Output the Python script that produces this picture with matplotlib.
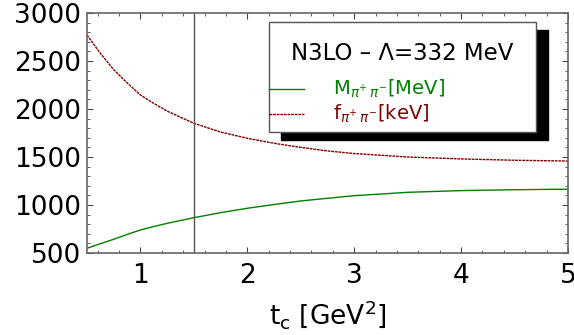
import matplotlib
matplotlib.use('Agg')
import matplotlib.pyplot as plt
from matplotlib.patches import Rectangle
from matplotlib.lines import Line2D
from matplotlib.ticker import MultipleLocator

# values
t_c = [0.5, 0.625, 0.75, 0.875, 1.0, 1.125, 1.25, 1.5, 1.75, 2.0, 2.25, 2.5, 2.75, 3.0, 3.5, 4.0, 4.5, 5.0]
mass = [549, 597, 643, 693, 740, 776, 809, 868, 920, 966, 1005, 1042, 1070, 1097, 1132, 1150, 1159, 1165]
coupling = [2771, 2580, 2410, 2272, 2146, 2058, 1978, 1851, 1760, 1695, 1643, 1600, 1563, 1536, 1500, 1480,
            1466, 1458]
t_cut = 1.5
title_text = 'N3LO \u2013 \u039b=332 MeV'
labels = [r'M$_{\pi^{+}\,\pi^{-}}$[MeV]', r'f$_{\pi^{+}\,\pi^{-}}$[keV]']
green = '#008000'
darkred = '#800000'

plt.rcParams['mathtext.fontset'] = 'dejavusans'

W, H = 574, 335
fig = plt.figure(figsize=(W / 100, H / 100), dpi=100)


def fx(px):
    return px / W


def fy(py):
    return 1 - py / H


ax = fig.add_axes([fx(87), fy(253), fx(568) - fx(87), fy(13) - fy(253)])
ax.plot(t_c, mass, color=green, lw=1.0)
ax.plot(t_c, coupling, color=darkred, lw=1.0, ls=(0, (2, 0.6)))
ax.axvline(t_cut, color='#555555', lw=1.0)

ax.set_xlim(0.5, 5)
ax.set_ylim(500, 3000)
ax.xaxis.set_major_locator(MultipleLocator(1))
ax.xaxis.set_minor_locator(MultipleLocator(0.2))
ax.yaxis.set_major_locator(MultipleLocator(500))
ax.yaxis.set_minor_locator(MultipleLocator(100))
ax.tick_params(which='both', direction='in', top=True, right=True, color='#444444')
ax.tick_params(which='major', length=4, labelsize=19, pad=4)
ax.tick_params(axis='x', which='major', pad=7)
ax.tick_params(which='minor', length=2)
for s in ax.spines.values():
    s.set_color('#666666')
    s.set_linewidth(1.2)
ax.set_xlabel(r't$_{\rm c}$ [GeV$^{2}$]', fontsize=19, labelpad=7)

# legend with drop shadow, drawn by hand
fig.add_artist(Rectangle((fx(281), fy(140)), fx(548) - fx(281), fy(30) - fy(140),
                         transform=fig.transFigure, facecolor='black', edgecolor='black', zorder=5))
fig.add_artist(Rectangle((fx(269), fy(132)), fx(536) - fx(269), fy(22) - fy(132),
                         transform=fig.transFigure, facecolor='white', edgecolor='#555555',
                         lw=1.0, zorder=6))
fig.text(fx(402), fy(53), title_text, fontsize=16.5, ha='center', va='center', zorder=7)
fig.add_artist(Line2D([fx(269), fx(304)], [fy(89), fy(89)], color=green, lw=1.0, zorder=7))
fig.add_artist(Line2D([fx(269), fx(304)], [fy(114), fy(114)], color=darkred, lw=1.0,
                      ls=(0, (2, 0.6)), zorder=7))
fig.text(fx(333), fy(89), labels[0], fontsize=14, color=green, ha='left', va='center', zorder=7)
fig.text(fx(333), fy(114), labels[1], fontsize=14, color=darkred, ha='left', va='center', zorder=7)

fig.savefig('out.png', dpi=100)
